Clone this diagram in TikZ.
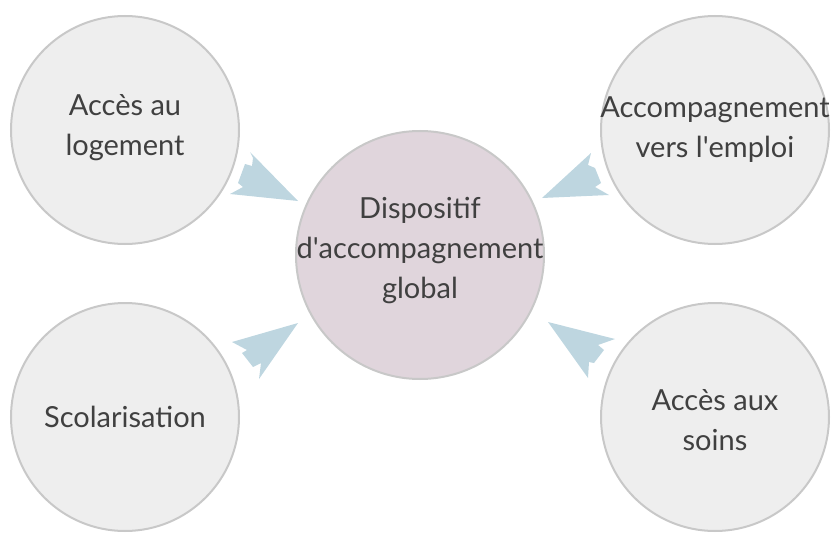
\documentclass[tikz,border=0pt]{standalone}
\usepackage{fontspec}
\setmainfont{Lato}
\usetikzlibrary{positioning}
\definecolor{ringgrey}{HTML}{C8C8C8}
\definecolor{outerfill}{HTML}{EEEEEE}
\definecolor{hubfill}{HTML}{E0D5DC}
\definecolor{linkblue}{HTML}{BED6E0}
\definecolor{labelgrey}{HTML}{404040}
\tikzset{
    % Shared look of every circle; its text is a centred label so that
    % long words never widen the circle
    topic/.style={
        draw=ringgrey, line width=2pt, circle, fill=outerfill,
        minimum size=228pt, inner sep=0pt},
%
    % The central circle, slightly larger and tinted
    hub/.style={topic, fill=hubfill, minimum size=248pt},
%
    % Text inside the circles
    topic text/.style={align=center, text=labelgrey, inner sep=0pt,
        font=\fontsize{29}{40}\selectfont},
%
    % The ragged arrows pointing inwards
    link arrow/.style={fill=linkblue, draw=none}}

\begin{document}
\begin{tikzpicture}[x=1pt, y=-1pt]
\useasboundingbox (0,0) rectangle (831,535);

% Centre and the four surrounding topics
\node [hub, label={[topic text, yshift=4pt]center:
    Dispositif\\d\textquotesingle accompagnement\\global}] (hub) at (420,255) {};
\node [topic, label={[topic text, yshift=2pt]center:Accès au\\logement}]
    (housing) at (125,130) {};
\node [topic, label={[topic text]center:
    Accompagnement\\vers l\textquotesingle emploi}] (work) at (715,130) {};
\node [topic, label={[topic text]center:Scolarisation}]
    (school) at (125,417) {};
\node [topic, label={[topic text, yshift=-3pt]center:Accès aux\\soins}]
    (care) at (715,417) {};

% Arrows from each topic towards the centre
\fill [link arrow] (298,201) -- (250,152) -- (253,158) -- (252,166)
    -- (245,164) -- (238,183) -- (243,187) -- (230,194) -- cycle;
\fill [link arrow] (542,198) -- (591,153) -- (588,165) -- (595,168)
    -- (601,183) -- (595,187) -- (609,195) -- cycle;
\fill [link arrow] (298,323) -- (232,342) -- (247,350) -- (242,353)
    -- (253,367) -- (261,363) -- (259,379) -- cycle;
\fill [link arrow] (548,322) -- (615,339) -- (598,345) -- (604,350)
    -- (594,363) -- (589,362) -- (588,378) -- cycle;

\end{tikzpicture}
\end{document}
